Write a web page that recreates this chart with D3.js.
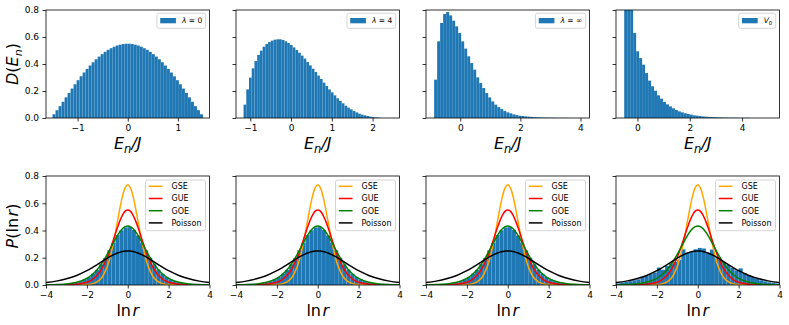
<!DOCTYPE html>
<html>
<head>
<meta charset="utf-8">
<script src="https://cdn.jsdelivr.net/npm/d3@7"></script>
<style>
  body { margin: 0; background: #fff; }
  svg { font-family: "DejaVu Sans", sans-serif; }
</style>
</head>
<body>
<div id="chart"></div>
<script>
// ---- Data: density of states histograms (top row) ----
const dosLambda0Range = [-1.5, 1.5];
const dosLambda0 = [0.028, 0.058, 0.088, 0.120, 0.153, 0.186, 0.218, 0.250, 0.280, 0.309,
  0.337, 0.364, 0.389, 0.413, 0.435, 0.455, 0.473, 0.490, 0.505, 0.517,
  0.528, 0.537, 0.543, 0.548, 0.550, 0.550, 0.548, 0.543, 0.537, 0.528,
  0.517, 0.505, 0.490, 0.473, 0.455, 0.435, 0.413, 0.389, 0.364, 0.337,
  0.309, 0.280, 0.250, 0.218, 0.186, 0.153, 0.120, 0.088, 0.058, 0.028];

const dosLambda4Range = [-1.165, 2.18];
const dosLambda4 = [0.099, 0.212, 0.299, 0.368, 0.422, 0.467, 0.499, 0.528, 0.548, 0.563,
  0.573, 0.580, 0.583, 0.583, 0.578, 0.568, 0.556, 0.541, 0.523, 0.504,
  0.484, 0.462, 0.440, 0.415, 0.390, 0.365, 0.341, 0.314, 0.289, 0.262,
  0.237, 0.212, 0.190, 0.168, 0.146, 0.126, 0.109, 0.091, 0.077, 0.064,
  0.052, 0.042, 0.032, 0.025, 0.020, 0.015, 0.010, 0.007, 0.005, 0.003];

const dosLambdaInfRange = [-0.87, 4.13];
const dosLambdaInf = [0.284, 0.568, 0.704, 0.770, 0.785, 0.760, 0.721, 0.679, 0.630, 0.568,
  0.514, 0.457, 0.407, 0.358, 0.301, 0.259, 0.222, 0.185, 0.153, 0.123,
  0.099, 0.081, 0.067, 0.052, 0.042, 0.035, 0.027, 0.022, 0.017, 0.015,
  0.012, 0.010, 0.008, 0.006, 0.005, 0.004, 0.003, 0.003, 0.002, 0.002,
  0.001, 0.001, 0.001, 0.001, 0.001, 0.000, 0.000, 0.000, 0.000, 0.000];

const dosV0Range = [-0.507, 5.2];
const dosV0 = [1.9, 1.55, 1.2, 0.630, 0.494, 0.444, 0.395, 0.333, 0.277, 0.235,
  0.202, 0.168, 0.143, 0.119, 0.101, 0.086, 0.072, 0.059, 0.049, 0.042,
  0.035, 0.030, 0.025, 0.020, 0.017, 0.014, 0.012, 0.010, 0.008, 0.007,
  0.006, 0.005, 0.004, 0.003, 0.003, 0.002, 0.002, 0.002, 0.001, 0.001,
  0.001, 0.001, 0.000, 0.000, 0.000, 0.000, 0.000, 0.000, 0.000, 0.000];

const topLegendLabels = ['λ', 'λ', 'λ', 'V'];
const topLegendSuffix = [' = 0', ' = 4', ' = ∞', '0'];

// ---- Data: ln r histograms (bottom row) ----
const lnrHistRange = [-4, 4];
const lnrHistGOE = [0.001, 0.002, 0.003, 0.004, 0.006, 0.010, 0.014, 0.019, 0.029, 0.042,
  0.058, 0.083, 0.111, 0.153, 0.198, 0.255, 0.309, 0.366, 0.402, 0.423,
  0.425, 0.404, 0.364, 0.311, 0.254, 0.200, 0.152, 0.113, 0.082, 0.059,
  0.041, 0.029, 0.020, 0.014, 0.009, 0.006, 0.004, 0.003, 0.002, 0.001];
const lnrHistV0 = [0.012, 0.018, 0.022, 0.028, 0.035, 0.042, 0.061, 0.066, 0.080, 0.092,
  0.128, 0.112, 0.140, 0.158, 0.170, 0.185, 0.262, 0.236, 0.245, 0.262,
  0.272, 0.268, 0.234, 0.260, 0.205, 0.185, 0.165, 0.148, 0.125, 0.108,
  0.122, 0.088, 0.074, 0.058, 0.045, 0.034, 0.027, 0.020, 0.016, 0.012];

// ---- Data: reference curves P(ln r) ----
const lnrGrid = [-4, -3.5, -3, -2.5, -2, -1.75, -1.5, -1.25, -1, -0.875, -0.75, -0.625, -0.5, -0.375, -0.25, -0.125,
  0, 0.125, 0.25, 0.375, 0.5, 0.625, 0.75, 0.875, 1, 1.25, 1.5, 1.75, 2, 2.5, 3, 3.5, 4];
const curveGSE = [0, 0, 0, 0.0003, 0.0028, 0.0083, 0.0230, 0.0591, 0.1367, 0.1979, 0.2759, 0.3682, 0.4698, 0.5700, 0.6559, 0.7144,
  0.7351, 0.7144, 0.6559, 0.5700, 0.4698, 0.3682, 0.2759, 0.1979, 0.1367, 0.0591, 0.0230, 0.0083, 0.0028, 0.0003, 0, 0, 0];
const curveGUE = [0.0001, 0.0003, 0.0012, 0.0052, 0.0201, 0.0384, 0.0707, 0.1239, 0.2037, 0.2536, 0.3088, 0.3663, 0.4231, 0.4743, 0.5154, 0.5421,
  0.5513, 0.5421, 0.5154, 0.4743, 0.4231, 0.3663, 0.3088, 0.2536, 0.2037, 0.1239, 0.0707, 0.0384, 0.0201, 0.0052, 0.0012, 0.0003, 0.0001];
const curveGOE = [0.0011, 0.0029, 0.0077, 0.0199, 0.0491, 0.0752, 0.1124, 0.1626, 0.2255, 0.2604, 0.2963, 0.3314, 0.3642, 0.3925, 0.4144, 0.4283,
  0.4330, 0.4283, 0.4144, 0.3925, 0.3642, 0.3314, 0.2963, 0.2604, 0.2255, 0.1626, 0.1124, 0.0752, 0.0491, 0.0199, 0.0077, 0.0029, 0.0011];
const curvePoisson = [0.0177, 0.0285, 0.0452, 0.0701, 0.1050, 0.1261, 0.1492, 0.1731, 0.1966, 0.2076, 0.2179, 0.2271, 0.2350, 0.2414, 0.2461, 0.2490,
  0.2500, 0.2490, 0.2461, 0.2414, 0.2350, 0.2271, 0.2179, 0.2076, 0.1966, 0.1731, 0.1492, 0.1261, 0.1050, 0.0701, 0.0452, 0.0285, 0.0177];
const curveNames = ['GSE', 'GUE', 'GOE', 'Poisson'];

// ---- Tick labels ----
const yTicks = [0, 0.2, 0.4, 0.6, 0.8];
const topXTicks = [[-1, 0, 1], [-1, 0, 1, 2], [0, 2, 4], [0, 2, 4]];
const bottomXTicks = [-4, -2, 0, 2, 4];

// ---- Layout ----
const width = 789;
const height = 325;
const panelLefts = [46, 236, 426, 616];
const panelWidth = 163.5;
const topRow = { top: 10, bottom: 118 };
const bottomRow = { top: 176, bottom: 285 };
const topDomains = [[-1.63, 1.63], [-1.35, 2.66], [-1.14, 4.3], [-0.82, 5.43]];
const blue = '#1f77b4';
const curveColors = ['orange', 'red', 'green', 'black'];

const svg = d3.select('#chart')
  .append('svg')
  .attr('width', width)
  .attr('height', height);

const fmtTick = d => (d < 0 ? '\u2212' + Math.abs(d) : String(d));

let clipCount = 0;

function makePanel(left, row, xDomain, xTicks, showY) {
  const x = d3.scaleLinear().domain(xDomain).range([left, left + panelWidth]);
  const y = d3.scaleLinear().domain([0, 0.8]).range([row.bottom, row.top]);

  const id = 'clip' + (clipCount++);
  svg.append('clipPath').attr('id', id)
    .append('rect')
    .attr('x', left).attr('y', row.top)
    .attr('width', panelWidth).attr('height', row.bottom - row.top);

  const plot = svg.append('g').attr('clip-path', `url(#${id})`);

  // x axis
  const xAxis = svg.append('g')
    .attr('transform', `translate(0,${row.bottom})`)
    .call(d3.axisBottom(x).tickValues(xTicks).tickSize(3.5).tickPadding(3.5).tickFormat(fmtTick));
  // y axis
  const yAxis = svg.append('g')
    .attr('transform', `translate(${left},0)`)
    .call(d3.axisLeft(y).tickValues(yTicks).tickSize(3.5).tickPadding(3.5)
      .tickFormat(showY ? d3.format('.1f') : ''));
  [xAxis, yAxis].forEach(a => {
    a.select('.domain').remove();
    a.selectAll('line').attr('stroke', '#000').attr('stroke-width', 0.8);
    a.selectAll('text').attr('font-size', 9).attr('fill', '#000')
      .attr('font-family', '"DejaVu Sans", sans-serif');
  });

  return { x, y, plot, left, row };
}

function drawFrame(p) {
  svg.append('rect')
    .attr('x', p.left).attr('y', p.row.top)
    .attr('width', panelWidth).attr('height', p.row.bottom - p.row.top)
    .attr('fill', 'none').attr('stroke', '#000').attr('stroke-width', 0.8);
}

function drawHistogram(p, range, values) {
  const w = (range[1] - range[0]) / values.length;
  p.plot.selectAll('rect.bar')
    .data(values)
    .enter()
    .append('rect')
    .attr('class', 'bar')
    .attr('x', (d, i) => p.x(range[0] + i * w))
    .attr('width', p.x(range[0] + w) - p.x(range[0]))
    .attr('y', d => p.y(d))
    .attr('height', d => p.y(0) - p.y(d))
    .attr('fill', blue)
    .attr('stroke', '#ffffff')
    .attr('stroke-opacity', 0.12)
    .attr('stroke-width', 0.3);
}

// Top row
const topData = [dosLambda0, dosLambda4, dosLambdaInf, dosV0];
const topRanges = [dosLambda0Range, dosLambda4Range, dosLambdaInfRange, dosV0Range];

topData.forEach((values, k) => {
  const p = makePanel(panelLefts[k], topRow, topDomains[k], topXTicks[k], k === 0);
  drawHistogram(p, topRanges[k], values);
  drawFrame(p);

  // legend
  const right = panelLefts[k] + panelWidth - 3.8;
  const lg = svg.append('g');
  const box = lg.append('rect')
    .attr('y', 13.3).attr('height', 15)
    .attr('rx', 2)
    .attr('fill', '#fff').attr('fill-opacity', 0.8)
    .attr('stroke', '#cccccc').attr('stroke-width', 0.8);
  const txt = lg.append('text')
    .attr('y', 23.3)
    .attr('font-size', 7.5)
    .attr('fill', '#000');
  txt.append('tspan').attr('font-style', 'italic').text(topLegendLabels[k]);
  if (k === 3) {
    txt.append('tspan').attr('font-size', 5.3).attr('dy', 1.5).text(topLegendSuffix[k]);
  } else {
    txt.append('tspan').text(topLegendSuffix[k]);
  }
  const tw = txt.node().getComputedTextLength();
  const boxW = 3.3 + 15.7 + 6 + tw + 3.5;
  const boxL = right - boxW;
  box.attr('x', boxL).attr('width', boxW);
  lg.append('rect')
    .attr('x', boxL + 3.3).attr('y', 18)
    .attr('width', 15.7).attr('height', 5.3)
    .attr('fill', blue);
  txt.attr('x', boxL + 25);
});

// Bottom row
const bottomHists = [lnrHistGOE, lnrHistGOE, lnrHistGOE, lnrHistV0];
const curves = [curveGSE, curveGUE, curveGOE, curvePoisson];

bottomHists.forEach((values, k) => {
  const p = makePanel(panelLefts[k], bottomRow, [-4, 4], bottomXTicks, k === 0);
  drawHistogram(p, lnrHistRange, values);

  const line = d3.line()
    .x((d, i) => p.x(lnrGrid[i]))
    .y(d => p.y(d))
    .curve(d3.curveCatmullRom);

  curves.forEach((c, j) => {
    p.plot.append('path')
      .datum(c)
      .attr('d', line)
      .attr('fill', 'none')
      .attr('stroke', curveColors[j])
      .attr('stroke-width', 1.5);
  });
  drawFrame(p);

  // legend
  const boxL = panelLefts[k] + panelWidth - 4 - 60;
  const lg = svg.append('g');
  lg.append('rect')
    .attr('x', boxL).attr('y', 180)
    .attr('width', 60).attr('height', 50.7)
    .attr('rx', 2)
    .attr('fill', '#fff').attr('fill-opacity', 0.8)
    .attr('stroke', '#cccccc').attr('stroke-width', 0.8);
  curveNames.forEach((name, j) => {
    const cy = 186.3 + j * 12.2;
    lg.append('line')
      .attr('x1', boxL + 3.3).attr('x2', boxL + 17)
      .attr('y1', cy).attr('y2', cy)
      .attr('stroke', curveColors[j]).attr('stroke-width', 1.5);
    lg.append('text')
      .attr('x', boxL + 26).attr('y', cy + 2.9)
      .attr('font-size', 8).attr('fill', '#000')
      .text(name);
  });
});

// Axis labels
const labelSize = 16;
function xLabelEn(cx) {
  const t = svg.append('text')
    .attr('x', cx).attr('y', 149)
    .attr('text-anchor', 'middle')
    .attr('font-size', labelSize);
  t.append('tspan').attr('font-style', 'italic').text('E');
  t.append('tspan').attr('font-style', 'italic').attr('font-size', 11.5).attr('dy', 3.5).text('n');
  t.append('tspan').attr('font-style', 'italic').attr('dy', -3.5).text('/J');
}
function xLabelLnr(cx) {
  const t = svg.append('text')
    .attr('x', cx).attr('y', 316)
    .attr('text-anchor', 'middle')
    .attr('font-size', labelSize);
  t.append('tspan').text('ln');
  t.append('tspan').attr('font-style', 'italic').attr('dx', 1.5).text('r');
}
panelLefts.forEach(l => {
  xLabelEn(l + panelWidth / 2);
  xLabelLnr(l + panelWidth / 2);
});

// y labels
const yl1 = svg.append('text')
  .attr('transform', 'translate(18,64) rotate(-90)')
  .attr('text-anchor', 'middle')
  .attr('font-size', labelSize);
yl1.append('tspan').attr('font-style', 'italic').text('D');
yl1.append('tspan').text('(');
yl1.append('tspan').attr('font-style', 'italic').text('E');
yl1.append('tspan').attr('font-style', 'italic').attr('font-size', labelSize * 0.7).attr('dy', 3.5).text('n');
yl1.append('tspan').attr('dy', -3.5).text(')');

const yl2 = svg.append('text')
  .attr('transform', 'translate(18,226) rotate(-90)')
  .attr('text-anchor', 'middle')
  .attr('font-size', labelSize);
yl2.append('tspan').attr('font-style', 'italic').text('P');
yl2.append('tspan').text('(ln');
yl2.append('tspan').attr('font-style', 'italic').attr('dx', 1.5).text('r');
yl2.append('tspan').text(')');
</script>
</body>
</html>
